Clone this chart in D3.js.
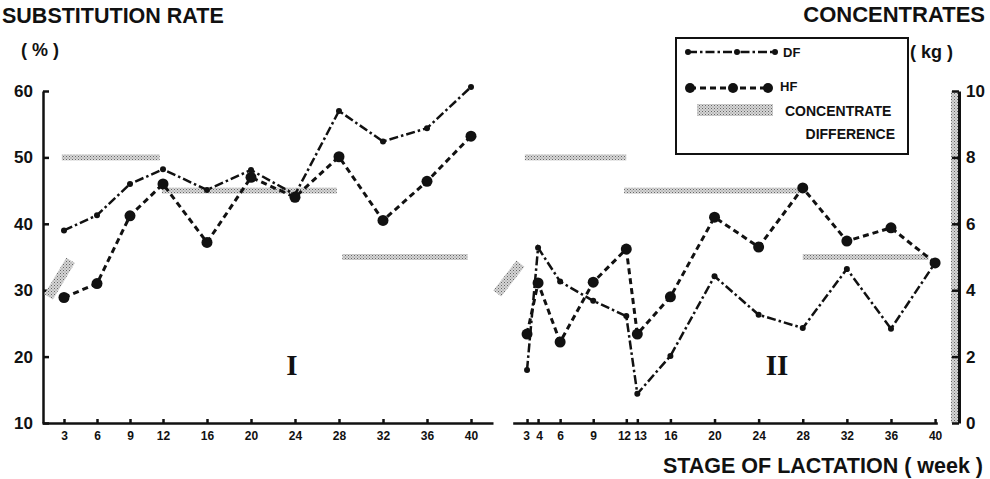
<!DOCTYPE html>
<html>
<head>
<meta charset="utf-8">
<script src="https://d3js.org/d3.v7.min.js"></script>
<style>
  body { margin: 0; background: #fff; }
  text { font-family: "Liberation Sans", Arial, sans-serif; font-weight: bold; fill: #111; }
</style>
</head>
<body>
<div id="chart"></div>
<script>
// weeks of lactation, period I and period II
var weeks1 = [3, 6, 9, 12, 16, 20, 24, 28, 32, 36, 40];
var weeks2 = [3, 4, 6, 9, 12, 13, 16, 20, 24, 28, 32, 36, 40];

// substitution rate (%)
var df1 = [39, 41.3, 46, 48.2, 45.1, 48.1, 44.4, 57, 52.4, 54.4, 60.6];
var hf1 = [28.9, 31, 41.2, 46, 37.2, 47, 44, 50.1, 40.5, 46.4, 53.2];
var df2 = [18, 36.4, 31.3, 28.4, 26.1, 14.4, 20.1, 32.1, 26.3, 24.3, 33.2, 24.2, 34.1];
var hf2 = [23.4, 31.1, 22.2, 31.2, 36.2, 23.4, 29, 41, 36.5, 45.4, 37.4, 39.4, 34.1];

// concentrate difference (kg): [from week, to week, kg]
var conc1 = [[2.8, 11.7, 8], [11.9, 27.8, 7], [28.3, 39.7, 5]];
var conc2 = [[2.8, 12, 8], [11.8, 27.7, 7], [28, 39.4, 5]];
// the short slanted bit at the start: [week, kg] pairs
var slant1 = [[1.6, 3.8], [3.6, 4.9]];
var slant2 = [[0.3, 3.9], [2.4, 4.8]];

var pctTicks = [10, 20, 30, 40, 50, 60];
var kgTicks = [0, 2, 4, 6, 8, 10];

var width = 990, height = 479;

var svg = d3.select("#chart")
  .append("svg")
    .attr("width", width)
    .attr("height", height);

// stipple pattern for the concentrate difference
var pat = svg.append("defs").append("pattern")
    .attr("id", "stip")
    .attr("width", 3).attr("height", 3)
    .attr("patternUnits", "userSpaceOnUse");
pat.append("rect").attr("width", 3).attr("height", 3).attr("fill", "#d6d6d6");
pat.append("rect").attr("width", 1).attr("height", 1).attr("fill", "#666");
pat.append("rect").attr("x", 1.5).attr("y", 1.5).attr("width", 1).attr("height", 1).attr("fill", "#858585");

// scales
var y = d3.scaleLinear().domain([10, 60]).range([423, 91]);
var yKg = d3.scaleLinear().domain([0, 10]).range([423, 91]);
var x1 = d3.scaleLinear().domain([1, 42]).range([42, 493]);
var x2 = d3.scaleLinear().domain([1.7, 40.2]).range([512.7, 937.3]);

function styleAxis(g, size) {
  g.attr("font-family", null).attr("font-size", size);
  g.selectAll("path, line").attr("stroke", "#111").attr("stroke-width", 2.5);
  g.selectAll("text").attr("fill", "#111");
}

// left axis
svg.append("g")
  .attr("transform", "translate(43,0)")
  .call(d3.axisLeft(y).tickValues(pctTicks).tickSize(-6).tickSizeOuter(0).tickPadding(10))
  .call(styleAxis, 17);

// right concentrate axis (shaded bar)
svg.append("rect")
  .attr("x", 951).attr("y", yKg(10))
  .attr("width", 7).attr("height", yKg(0) - yKg(10))
  .attr("fill", "url(#stip)");
svg.append("g")
  .attr("transform", "translate(959,0)")
  .call(d3.axisRight(yKg).tickValues(kgTicks).tickSize(-7).tickSizeOuter(0).tickPadding(7))
  .call(styleAxis, 17)
  .call(function(g) { g.select(".domain").attr("stroke-width", 3); });

// bottom axes, one per period
svg.append("g")
  .attr("transform", "translate(0,423)")
  .call(d3.axisBottom(x1).tickValues(weeks1).tickSize(-4).tickSizeOuter(0).tickPadding(8))
  .call(styleAxis, 12);
svg.append("g")
  .attr("transform", "translate(0,423)")
  .call(d3.axisBottom(x2).tickValues(weeks2).tickSize(-4).tickSizeOuter(0).tickPadding(8))
  .call(styleAxis, 12)
  .call(function(g) {
    // weeks 3/4 and 12/13 sit close together: nudge their labels apart
    g.selectAll(".tick text")
      .attr("letter-spacing", function(d) { return (d === 12 || d === 13) ? -0.5 : null; })
      .attr("dx", function(d) { return d === 12 ? -2.5 : d === 13 ? 2.5 : d === 3 ? -1 : d === 4 ? 1 : 0; });
  });

// draw one period
function drawPeriod(x, weeks, df, hf, conc, slant) {
  var g = svg.append("g");

  // concentrate difference bands
  g.selectAll(".band")
    .data(conc)
    .enter()
    .append("rect")
      .attr("x", function(d) { return x(d[0]); })
      .attr("y", function(d) { return yKg(d[2]) - 3; })
      .attr("width", function(d) { return x(d[1]) - x(d[0]); })
      .attr("height", 6)
      .attr("fill", "url(#stip)");

  g.append("line")
    .attr("x1", x(slant[0][0])).attr("y1", yKg(slant[0][1]))
    .attr("x2", x(slant[1][0])).attr("y2", yKg(slant[1][1]))
    .attr("stroke", "url(#stip)")
    .attr("stroke-width", 10);

  var dfData = weeks.map(function(w, i) { return [w, df[i]]; });
  var hfData = weeks.map(function(w, i) { return [w, hf[i]]; });

  var line = d3.line()
    .x(function(d) { return x(d[0]); })
    .y(function(d) { return y(d[1]); });

  g.append("path")
    .datum(dfData)
    .attr("fill", "none")
    .attr("stroke", "#111")
    .attr("stroke-width", 2.5)
    .attr("stroke-dasharray", "9,3,2.5,3")
    .attr("d", line);

  g.append("path")
    .datum(hfData)
    .attr("fill", "none")
    .attr("stroke", "#111")
    .attr("stroke-width", 3)
    .attr("stroke-dasharray", "6,4")
    .attr("d", line);

  g.selectAll(".dfdot")
    .data(dfData)
    .enter()
    .append("circle")
      .attr("cx", function(d) { return x(d[0]); })
      .attr("cy", function(d) { return y(d[1]); })
      .attr("r", 3)
      .attr("fill", "#111");

  g.selectAll(".hfdot")
    .data(hfData)
    .enter()
    .append("circle")
      .attr("cx", function(d) { return x(d[0]); })
      .attr("cy", function(d) { return y(d[1]); })
      .attr("r", 5.5)
      .attr("fill", "#111");
}

drawPeriod(x1, weeks1, df1, hf1, conc1, slant1);
drawPeriod(x2, weeks2, df2, hf2, conc2, slant2);

// period numerals
svg.append("text").attr("x", 292).attr("y", 375).attr("text-anchor", "middle")
  .style("font-family", "'Liberation Serif', serif").style("font-size", "29px").text("I");
svg.append("text").attr("x", 777).attr("y", 375).attr("text-anchor", "middle")
  .style("font-family", "'Liberation Serif', serif").style("font-size", "29px").text("II");

// titles
svg.append("text").attr("x", 2).attr("y", 23).style("font-size", "21.5px").text("SUBSTITUTION RATE");
svg.append("text").attr("x", 21).attr("y", 56).style("font-size", "18px").text("( % )");
svg.append("text").attr("x", 985).attr("y", 22).attr("text-anchor", "end").style("font-size", "22px").text("CONCENTRATES");
svg.append("text").attr("x", 910).attr("y", 58).style("font-size", "18px").text("( kg )");
svg.append("text").attr("x", 983).attr("y", 473).attr("text-anchor", "end").style("font-size", "21.5px").text("STAGE OF LACTATION ( week )");

// legend
var leg = svg.append("g");
leg.append("rect")
  .attr("x", 676).attr("y", 38).attr("width", 232).attr("height", 116)
  .attr("fill", "#fff").attr("stroke", "#111").attr("stroke-width", 2);

leg.append("line").attr("x1", 688).attr("x2", 775).attr("y1", 52).attr("y2", 52)
  .attr("stroke", "#111").attr("stroke-width", 2.5).attr("stroke-dasharray", "9,3,2.5,3");
[688, 737, 775].forEach(function(cx) {
  leg.append("circle").attr("cx", cx).attr("cy", 52).attr("r", 3).attr("fill", "#111");
});
leg.append("text").attr("x", 783).attr("y", 57).style("font-size", "13px").text("DF");

leg.append("line").attr("x1", 690).attr("x2", 768).attr("y1", 88).attr("y2", 88)
  .attr("stroke", "#111").attr("stroke-width", 3).attr("stroke-dasharray", "6,4");
[690, 733, 768].forEach(function(cx) {
  leg.append("circle").attr("cx", cx).attr("cy", 88).attr("r", 5).attr("fill", "#111");
});
leg.append("text").attr("x", 780).attr("y", 91).style("font-size", "13px").text("HF");

leg.append("rect").attr("x", 697).attr("y", 104).attr("width", 76).attr("height", 12)
  .attr("fill", "url(#stip)");
leg.append("text").attr("x", 785).attr("y", 116).style("font-size", "14px").text("CONCENTRATE");
leg.append("text").attr("x", 895).attr("y", 139).attr("text-anchor", "end").style("font-size", "14px").text("DIFFERENCE");
</script>
</body>
</html>
